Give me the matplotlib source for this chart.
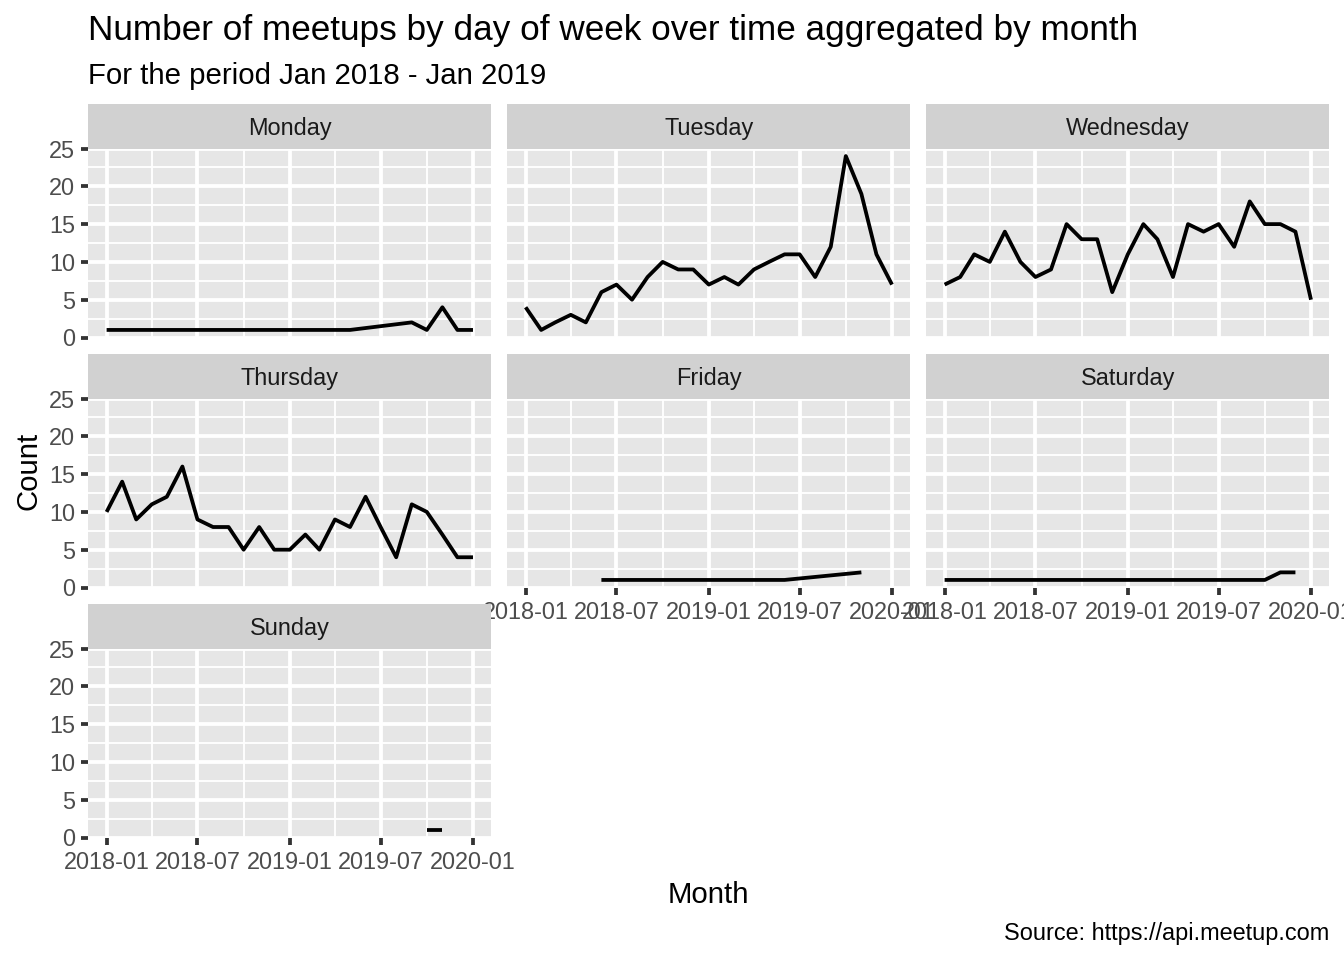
import numpy as np
import pandas as pd
import matplotlib
matplotlib.use("Agg")
import matplotlib.pyplot as plt
import matplotlib.dates as mdates

plt.rcParams['font.family'] = ['Liberation Sans', 'DejaVu Sans']

# monthly meetup counts per weekday (None = no meetups that month)
months = ['2018-01', '2018-02', '2018-03', '2018-04', '2018-05', '2018-06',
          '2018-07', '2018-08', '2018-09', '2018-10', '2018-11', '2018-12',
          '2019-01', '2019-02', '2019-03', '2019-04', '2019-05', '2019-06',
          '2019-07', '2019-08', '2019-09', '2019-10', '2019-11', '2019-12',
          '2020-01']

monday = [1, 1, 1, 1, 1, 1, 1, 1, 1, 1, 1, 1, 1, 1, 1, 1, 1,
          None, None, None, 2, 1, 4, 1, 1]
tuesday = [4, 1, 2, 3, 2, 6, 7, 5, 8, 10, 9, 9, 7, 8, 7, 9, 10, 11, 11, 8,
           12, 24, 19, 11, 7]
wednesday = [7, 8, 11, 10, 14, 10, 8, 9, 15, 13, 13, 6, 11, 15, 13, 8, 15,
             14, 15, 12, 18, 15, 15, 14, 5]
thursday = [10, 14, 9, 11, 12, 16, 9, 8, 8, 5, 8, 5, 5, 7, 5, 9, 8, 12, 8, 4,
            11, 10, 7, 4, 4]
friday = [None, None, None, None, None, 1, 1, 1, 1, 1, 1, 1, 1, 1, 1, 1, 1, 1,
          None, None, None, None, 2, None, None]
saturday = [1, 1, 1, 1, 1, 1, 1, 1, 1, 1, 1, 1, 1, 1, 1, 1, 1, 1, 1, 1, 1, 1,
            2, 2, None]
sunday = [None, None, None, None, None, None, None, None, None, None, None,
          None, None, None, None, None, None, None, None, None, None, 1, 1,
          None, None]

days = ['Monday', 'Tuesday', 'Wednesday', 'Thursday', 'Friday', 'Saturday', 'Sunday']
series = [monday, tuesday, wednesday, thursday, friday, saturday, sunday]

date_breaks = ['2018-01', '2018-07', '2019-01', '2019-07', '2020-01']
y_breaks = [0, 5, 10, 15, 20, 25]

W, H = 1344, 960
fig = plt.figure(figsize=(7, 5), dpi=192)

x_dates = mdates.date2num(pd.to_datetime(months))
major_x = mdates.date2num(pd.to_datetime(date_breaks))
minor_x = (major_x[:-1] + major_x[1:]) / 2
span = x_dates[-1] - x_dates[0]
xlim = (x_dates[0] - 0.05 * span, x_dates[-1] + 0.05 * span)
minor_y = [2.5, 7.5, 12.5, 17.5, 22.5]

col_left = [88.3, 507.3, 926.3]
panel_w = 403.0
row_top = [104.0, 354.0, 604.0]
strip_h = 44.5
panel_h = 189.0


def fx(px):
    return px / W


def fy(py):
    return 1 - py / H


for i, (day, vals) in enumerate(zip(days, series)):
    r, c = divmod(i, 3)
    left = col_left[c]
    top = row_top[r]

    # strip
    sax = fig.add_axes([fx(left), fy(top + strip_h), panel_w / W, strip_h / H])
    sax.set_facecolor('#D1D1D1')
    sax.set_xticks([])
    sax.set_yticks([])
    for s in sax.spines.values():
        s.set_visible(False)
    sax.text(0.5, 0.46, day, ha='center', va='center', fontsize=8.8,
             color='#1A1A1A', transform=sax.transAxes)

    # panel
    ax = fig.add_axes([fx(left), fy(top + strip_h + panel_h), panel_w / W, panel_h / H])
    ax.set_facecolor('#E6E6E6')
    for s in ax.spines.values():
        s.set_visible(False)
    ax.set_axisbelow(True)

    xs = [x for x, v in zip(x_dates, vals) if v is not None]
    ys = [v for v in vals if v is not None]
    ax.plot(xs, ys, color='black', lw=1.42, solid_capstyle='butt')

    ax.set_xlim(xlim)
    ax.set_ylim(0, 25)
    ax.set_xticks(major_x)
    ax.set_xticks(minor_x, minor=True)
    ax.set_xticklabels(date_breaks)
    ax.set_yticks(y_breaks)
    ax.set_yticks(minor_y, minor=True)
    ax.grid(which='major', color='white', lw=1.42)
    ax.grid(which='minor', color='white', lw=0.71)
    ax.tick_params(which='minor', length=0)
    ax.tick_params(which='major', length=2.75, width=1.42, color='#333333',
                   labelsize=8.8, labelcolor='#4D4D4D', pad=2.2)

    has_x_axis = i >= 4
    if not has_x_axis:
        ax.tick_params(axis='x', which='major', length=0, labelbottom=False)
    if c != 0:
        ax.tick_params(axis='y', which='major', length=0, labelleft=False)

fig.text(fx(88.3), fy(40), 'Number of meetups by day of week over time aggregated by month',
         fontsize=13.2, color='black', ha='left', va='baseline')
fig.text(fx(88.3), fy(84), 'For the period Jan 2018 - Jan 2019',
         fontsize=11, color='black', ha='left', va='baseline')
fig.text(fx(708.8), fy(903), 'Month', fontsize=11, ha='center', va='baseline')
fig.text(fx(28), fy(471), 'Count', fontsize=11, ha='center', va='center', rotation=90)
fig.text(fx(1329.3), fy(940), 'Source: https://api.meetup.com',
         fontsize=8.8, ha='right', va='baseline')

fig.savefig('out.png', dpi=192, facecolor='white')
